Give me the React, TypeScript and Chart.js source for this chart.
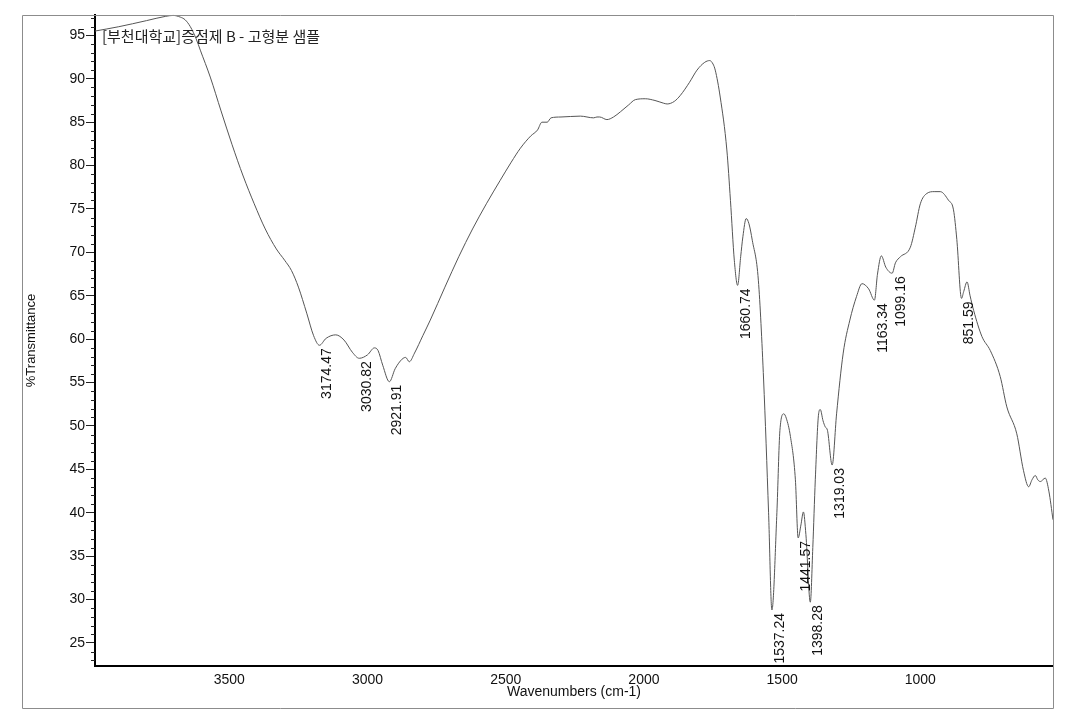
import React, { useEffect, useRef } from 'react';
import { Chart, registerables } from 'chart.js';

Chart.register(...registerables);

const wavenumbers = [
  3986, 3900, 3800, 3730, 3703, 3677, 3660, 3641, 3620, 3605, 3569, 3530, 3490, 3450, 3410, 3370,
  3330, 3300, 3275, 3250, 3220, 3195, 3174, 3150, 3115, 3085, 3055, 3030, 3000, 2975, 2962, 2945,
  2921, 2900, 2875, 2862, 2849, 2830, 2800, 2773, 2720, 2670, 2620, 2570, 2520, 2480, 2447, 2410,
  2385, 2369, 2350, 2336, 2300, 2230, 2182, 2170, 2160, 2134, 2110, 2085, 2055, 2031, 1995, 1960,
  1930, 1916, 1890, 1868, 1835, 1808, 1780, 1762, 1750, 1742, 1724, 1700, 1687, 1673, 1661, 1650,
  1642, 1630, 1620, 1608, 1586, 1567, 1549, 1537, 1519, 1508, 1494, 1485, 1470, 1452, 1442, 1432,
  1423, 1414, 1398, 1389, 1380, 1368, 1362, 1352, 1344, 1336, 1319, 1303, 1279, 1255, 1231, 1211,
  1187, 1166, 1155, 1141, 1125, 1102, 1090, 1072, 1036, 1018, 1000, 976, 950, 928, 898, 880,
  868, 851, 843, 831, 820, 807, 777, 747, 711, 687, 651, 627, 608, 596, 584, 575,
  566, 548, 535, 520,
];

const transmittance = [
  95.5, 96.0, 96.7, 97.2, 97.3, 97.1, 96.8, 96.0, 94.6, 93.3, 90.2, 86.3, 82.4, 78.8, 75.6, 72.7,
  70.4, 69.1, 67.9, 66.0, 63.0, 60.4, 59.3, 60.1, 60.5, 59.9, 58.5, 57.8, 58.2, 59.0, 58.7, 57.0,
  55.1, 56.6, 57.7, 57.9, 57.4, 58.4, 60.4, 62.2, 66.0, 69.5, 72.7, 75.6, 78.3, 80.4, 82.0, 83.4,
  84.1, 85.0, 85.0, 85.5, 85.6, 85.7, 85.5, 85.6, 85.6, 85.3, 85.6, 86.2, 87.0, 87.6, 87.7, 87.5,
  87.2, 87.1, 87.4, 88.1, 89.6, 91.0, 91.9, 92.1, 91.7, 91.0, 87.9, 81.8, 76.0, 69.1, 66.2, 69.5,
  71.8, 73.9, 73.3, 71.4, 66.8, 55.3, 40.0, 28.8, 40.0, 49.5, 51.4, 50.9, 48.8, 43.8, 37.1, 38.6,
  40.1, 37.5, 29.7, 36.0, 43.8, 51.4, 51.9, 50.6, 49.9, 49.5, 45.5, 51.4, 58.4, 62.2, 64.9, 66.4,
  65.8, 64.5, 67.5, 69.6, 68.3, 67.6, 68.8, 69.5, 70.6, 72.9, 75.6, 76.8, 77.0, 77.0, 76.0, 74.9,
  71.5, 64.7, 65.5, 66.6, 65.0, 63.3, 60.3, 58.7, 55.7, 52.2, 49.1, 44.9, 43.0, 43.8, 44.3, 43.8,
  43.6, 44.0, 42.5, 39.2,
];

const xTickValues = [3500, 3000, 2500, 2000, 1500, 1000];
const yTickValues = [25, 30, 35, 40, 45, 50, 55, 60, 65, 70, 75, 80, 85, 90, 95];

const peakWavenumbers = [3174.47, 3030.82, 2921.91, 1660.74, 1537.24, 1441.57, 1398.28, 1319.03, 1163.34, 1099.16, 851.59];
const peakTransmittance = [59.3, 57.8, 55.1, 66.2, 28.8, 37.1, 29.7, 45.5, 64.5, 67.6, 64.7];
const peakLabels = ['3174.47', '3030.82', '2921.91', '1660.74', '1537.24', '1441.57', '1398.28', '1319.03', '1163.34', '1099.16', '851.59'];

const sampleTitle = '[부천대학교]증점제 B - 고형분 샘플';
const xAxisTitle = 'Wavenumbers (cm-1)';
const yAxisTitle = '%Transmittance';

const FONT = '"Liberation Sans", Arial, Helvetica, sans-serif';

const decorPlugin = {
  id: 'irDecor',
  afterDraw(chart: any) {
    const ctx = chart.ctx as CanvasRenderingContext2D;
    const { left, top, right } = chart.chartArea;
    const xs = chart.scales.x;
    const ys = chart.scales.y;
    ctx.save();
    // outer frame
    ctx.strokeStyle = '#8c8c8c';
    ctx.lineWidth = 1;
    ctx.beginPath();
    ctx.moveTo(22.5, 708.5);
    ctx.lineTo(22.5, top + 0.5);
    ctx.lineTo(right + 0.5, top + 0.5);
    ctx.lineTo(right + 0.5, 708.5);
    ctx.lineTo(22.5, 708.5);
    ctx.stroke();

    // minor y ticks
    ctx.strokeStyle = '#222';
    ctx.lineWidth = 1;
    ctx.beginPath();
    for (let v = Math.ceil(ys.min); v <= ys.max; v++) {
      if (v % 5 === 0) continue;
      const py = Math.round(ys.getPixelForValue(v)) + 0.5;
      ctx.moveTo(left - 4, py);
      ctx.lineTo(left, py);
    }
    ctx.stroke();

    // peak labels
    ctx.fillStyle = '#111';
    ctx.font = `14px ${FONT}`;
    ctx.textAlign = 'right';
    ctx.textBaseline = 'middle';
    for (let i = 0; i < peakWavenumbers.length; i++) {
      const px = xs.getPixelForValue(peakWavenumbers[i]);
      const py = ys.getPixelForValue(peakTransmittance[i]);
      ctx.save();
      ctx.translate(px + 8, py + 3);
      ctx.rotate(-Math.PI / 2);
      ctx.fillText(peakLabels[i], 0, 0);
      ctx.restore();
    }

    // sample title
    ctx.fillStyle = '#222';
    ctx.font = '15px "Noto Sans CJK KR", sans-serif';
    ctx.textAlign = 'left';
    ctx.textBaseline = 'middle';
    ctx.fillText(sampleTitle, left + 7, 36);
    ctx.restore();
  },
};

export default function App() {
  const canvasRef = useRef<HTMLCanvasElement | null>(null);

  useEffect(() => {
    if (!canvasRef.current) return;
    const points = wavenumbers.map((w, i) => ({ x: w, y: transmittance[i] }));
    const chart = new Chart(canvasRef.current, {
      type: 'line',
      data: {
        datasets: [
          {
            data: points,
            borderColor: '#555',
            borderWidth: 1,
            pointRadius: 0,
            cubicInterpolationMode: 'monotone',
            fill: false,
            clip: false as any,
          },
        ],
      },
      options: {
        animation: false,
        responsive: false,
        devicePixelRatio: 1,
        layout: { padding: { left: 22, top: 15, right: 20, bottom: 19 } },
        plugins: {
          legend: { display: false },
          tooltip: { enabled: false },
          title: { display: false },
        },
        scales: {
          x: {
            type: 'linear',
            reverse: true,
            min: 520,
            max: 3986,
            afterBuildTicks: (s: any) => {
              s.ticks = xTickValues.map((v) => ({ value: v }));
            },
            afterFit: (s: any) => {
              s.height = 42;
            },
            ticks: {
              font: { size: 14, family: FONT },
              color: '#111',
              padding: 6,
              maxRotation: 0,
              autoSkip: false,
              callback: (v: any) => String(v),
            },
            grid: { drawOnChartArea: false, drawTicks: false },
            border: { color: '#000', width: 2 },
            title: {
              display: true,
              text: xAxisTitle,
              font: { size: 14, family: FONT },
              color: '#111',
              padding: { top: 0, bottom: 7 },
            },
          },
          y: {
            type: 'linear',
            min: 22.35,
            max: 97.35,
            afterBuildTicks: (s: any) => {
              s.ticks = yTickValues.map((v) => ({ value: v }));
            },
            afterFit: (s: any) => {
              s.width = 73;
            },
            ticks: {
              font: { size: 14, family: FONT },
              color: '#111',
              padding: 1,
              autoSkip: false,
              callback: (v: any) => String(v),
            },
            grid: { drawOnChartArea: false, drawTicks: true, tickLength: 9, tickColor: '#222', tickWidth: 1 },
            border: { color: '#000', width: 2 },
            title: {
              display: true,
              text: yAxisTitle,
              font: { size: 13, family: FONT },
              color: '#111',
              padding: { top: 2, bottom: 0 },
            },
          },
        },
      },
      plugins: [decorPlugin],
    });
    return () => chart.destroy();
  }, []);

  return (
    <div style={{ position: 'absolute', left: 0, top: 0, width: 1073, height: 727, background: '#fff' }}>
      <canvas ref={canvasRef} width={1073} height={727} />
    </div>
  );
}
